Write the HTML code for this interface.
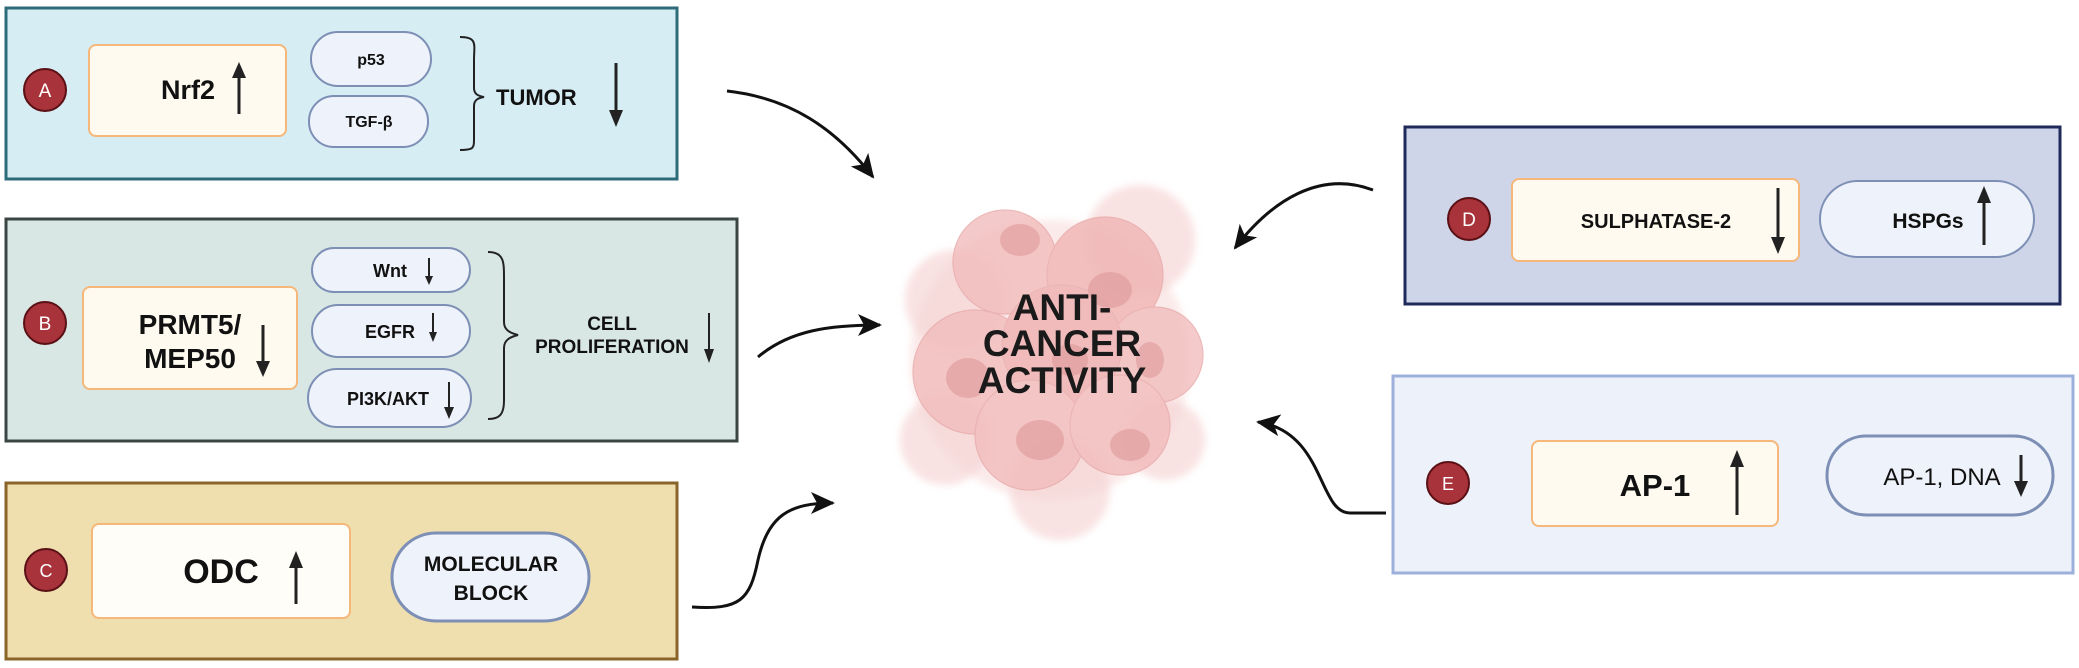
<!DOCTYPE html>
<html><head><meta charset="utf-8"><style>
html,body{margin:0;padding:0;background:#fff;}
svg{display:block;}
text{font-family:"Liberation Sans",sans-serif;font-weight:bold;fill:#111;}
</style></head><body>
<svg width="2079" height="668" viewBox="0 0 2079 668" xmlns="http://www.w3.org/2000/svg">
<defs>
<marker id="ah" markerUnits="userSpaceOnUse" markerWidth="26" markerHeight="22" refX="22" refY="11" orient="auto">
<path d="M0,0 L24,11 L0,22 L6,11 Z" fill="#111"/></marker>
<filter id="bl" x="-20%" y="-20%" width="140%" height="140%"><feGaussianBlur stdDeviation="4"/></filter>
</defs>

<!-- Box A -->
<rect x="6" y="8" width="671" height="171" fill="#d6edf4" stroke="#2d6b78" stroke-width="3"/>
<circle cx="45" cy="90" r="21" fill="#a8333a" stroke="#5a1015" stroke-width="2"/>
<text x="45" y="97" font-size="19" text-anchor="middle" style="fill:#fff;font-weight:normal">A</text>
<rect x="89" y="45" width="197" height="91" rx="7" fill="#fffaf0" stroke="#f5b77a" stroke-width="2"/>
<text x="188" y="99" font-size="27" text-anchor="middle">Nrf2</text>
<line x1="239" y1="114" x2="239" y2="75" stroke="#222" stroke-width="3"/>
<polygon points="232,78 246,78 239,62" fill="#222"/>
<rect x="311" y="32" width="120" height="54" rx="27" fill="#eef2fa" stroke="#7d8fb5" stroke-width="2"/>
<text x="371" y="65" font-size="16" text-anchor="middle">p53</text>
<rect x="309" y="96" width="119" height="51" rx="25" fill="#eef2fa" stroke="#7d8fb5" stroke-width="2"/>
<text x="369" y="127" font-size="16" text-anchor="middle">TGF-β</text>
<path d="M460,37 C478,37 474,45 474,60 L474,88 C474,94 478,96 484,97 C478,98 474,100 474,106 L474,138 C474,148 474,150 460,150" fill="none" stroke="#222" stroke-width="2"/>
<text x="496" y="105" font-size="22">TUMOR</text>
<line x1="616" y1="63" x2="616" y2="112" stroke="#222" stroke-width="3"/>
<polygon points="609,110 623,110 616,127" fill="#222"/>

<!-- Box B -->
<rect x="6" y="219" width="731" height="222" fill="#d9e7e4" stroke="#3b4644" stroke-width="3"/>
<circle cx="45" cy="323" r="21" fill="#a8333a" stroke="#5a1015" stroke-width="2"/>
<text x="45" y="330" font-size="19" text-anchor="middle" style="fill:#fff;font-weight:normal">B</text>
<rect x="83" y="287" width="214" height="102" rx="7" fill="#fffaf0" stroke="#f5b77a" stroke-width="2"/>
<text x="190" y="334" font-size="28" text-anchor="middle">PRMT5/</text>
<text x="190" y="368" font-size="28" text-anchor="middle">MEP50</text>
<line x1="263" y1="325" x2="263" y2="364" stroke="#222" stroke-width="3"/>
<polygon points="256,361 270,361 263,377" fill="#222"/>
<rect x="312" y="248" width="158" height="44" rx="22" fill="#eef2fa" stroke="#7d8fb5" stroke-width="2"/>
<text x="390" y="277" font-size="18" text-anchor="middle">Wnt</text>
<line x1="429" y1="258" x2="429" y2="278" stroke="#222" stroke-width="2"/>
<polygon points="425,276 433,276 429,285" fill="#222"/>
<rect x="312" y="305" width="158" height="52" rx="26" fill="#eef2fa" stroke="#7d8fb5" stroke-width="2"/>
<text x="390" y="338" font-size="18" text-anchor="middle">EGFR</text>
<line x1="433" y1="313" x2="433" y2="334" stroke="#222" stroke-width="2"/>
<polygon points="429,332 437,332 433,342" fill="#222"/>
<rect x="308" y="369" width="163" height="58" rx="29" fill="#eef2fa" stroke="#7d8fb5" stroke-width="2"/>
<text x="388" y="405" font-size="18" text-anchor="middle">PI3K/AKT</text>
<line x1="449" y1="382" x2="449" y2="410" stroke="#222" stroke-width="2"/>
<polygon points="444,407 454,407 449,419" fill="#222"/>
<path d="M488,252 C504,252 504,262 504,278 L504,322 C504,330 510,333 518,335 C510,337 504,340 504,348 L504,400 C504,414 500,419 488,419" fill="none" stroke="#222" stroke-width="2"/>
<text x="612" y="330" font-size="19" text-anchor="middle">CELL</text>
<text x="612" y="353" font-size="19" text-anchor="middle">PROLIFERATION</text>
<line x1="709" y1="313" x2="709" y2="352" stroke="#222" stroke-width="2"/>
<polygon points="704,349 714,349 709,363" fill="#222"/>

<!-- Box C -->
<rect x="6" y="483" width="671" height="176" fill="#efdeae" stroke="#8a6428" stroke-width="3"/>
<circle cx="46" cy="570" r="21" fill="#a8333a" stroke="#5a1015" stroke-width="2"/>
<text x="46" y="577" font-size="18" text-anchor="middle" style="fill:#fff;font-weight:normal">C</text>
<rect x="92" y="524" width="258" height="94" rx="7" fill="#fffdf8" stroke="#f5b77a" stroke-width="2"/>
<text x="221" y="583" font-size="34" text-anchor="middle">ODC</text>
<line x1="296" y1="604" x2="296" y2="565" stroke="#222" stroke-width="3"/>
<polygon points="289,568 303,568 296,551" fill="#222"/>
<rect x="392" y="533" width="197" height="88" rx="44" fill="#eef2fa" stroke="#7d8fb5" stroke-width="3"/>
<text x="491" y="571" font-size="21" text-anchor="middle">MOLECULAR</text>
<text x="491" y="600" font-size="21" text-anchor="middle">BLOCK</text>

<!-- Cell cluster -->
<g filter="url(#bl)">
<circle cx="1050" cy="360" r="140" fill="#f8dcdc" opacity="0.6"/>
<circle cx="955" cy="300" r="50" fill="#f6d6d6" opacity="0.7"/>
<circle cx="1140" cy="240" r="55" fill="#f6d6d6" opacity="0.7"/>
<circle cx="1060" cy="490" r="50" fill="#f6d6d6" opacity="0.7"/>
<circle cx="945" cy="440" r="45" fill="#f6d6d6" opacity="0.7"/>
<circle cx="1165" cy="440" r="40" fill="#f6d6d6" opacity="0.7"/>
</g>
<g stroke="#e8a8a8" stroke-width="1.2" opacity="0.8">
<circle cx="1005" cy="262" r="52" fill="#f2bcbc"/>
<circle cx="1105" cy="275" r="58" fill="#f0b4b4"/>
<circle cx="975" cy="372" r="62" fill="#f2bcbc"/>
<circle cx="1155" cy="355" r="48" fill="#f2bebe"/>
<circle cx="1062" cy="345" r="60" fill="#efb0b0"/>
<circle cx="1030" cy="435" r="55" fill="#f2bcbc"/>
<circle cx="1120" cy="425" r="50" fill="#f2bcbc"/>
</g>
<g fill="#dd9597" opacity="0.55">
<ellipse cx="1020" cy="240" rx="20" ry="16"/>
<ellipse cx="1110" cy="290" rx="22" ry="18"/>
<ellipse cx="968" cy="378" rx="22" ry="20"/>
<ellipse cx="1040" cy="440" rx="24" ry="20"/>
<ellipse cx="1130" cy="445" rx="20" ry="16"/>
<ellipse cx="1150" cy="360" rx="14" ry="18"/>
<ellipse cx="1070" cy="360" rx="18" ry="16"/>
</g>
<text x="1062" y="320" font-size="37" text-anchor="middle" style="fill:#1a1a1a">ANTI-</text>
<text x="1062" y="356" font-size="37" text-anchor="middle" style="fill:#1a1a1a">CANCER</text>
<text x="1062" y="393" font-size="37" text-anchor="middle" style="fill:#1a1a1a">ACTIVITY</text>

<!-- Box D -->
<rect x="1405" y="127" width="655" height="177" fill="#ced5e9" stroke="#1f2a5a" stroke-width="3"/>
<circle cx="1469" cy="219" r="21" fill="#a8333a" stroke="#5a1015" stroke-width="2"/>
<text x="1469" y="226" font-size="19" text-anchor="middle" style="fill:#fff;font-weight:normal">D</text>
<rect x="1512" y="179" width="287" height="82" rx="7" fill="#fffaf0" stroke="#f5b77a" stroke-width="2"/>
<text x="1656" y="228" font-size="20" text-anchor="middle">SULPHATASE-2</text>
<line x1="1778" y1="188" x2="1778" y2="240" stroke="#222" stroke-width="3"/>
<polygon points="1771,237 1785,237 1778,254" fill="#222"/>
<rect x="1820" y="181" width="214" height="76" rx="38" fill="#eef2fa" stroke="#7d8fb5" stroke-width="2"/>
<text x="1928" y="228" font-size="21" text-anchor="middle">HSPGs</text>
<line x1="1984" y1="245" x2="1984" y2="200" stroke="#222" stroke-width="3"/>
<polygon points="1977,203 1991,203 1984,186" fill="#222"/>

<!-- Box E -->
<rect x="1393" y="376" width="680" height="197" fill="#edf2fa" stroke="#9db0dc" stroke-width="3"/>
<circle cx="1448" cy="483" r="21" fill="#a8333a" stroke="#5a1015" stroke-width="2"/>
<text x="1448" y="490" font-size="18" text-anchor="middle" style="fill:#fff;font-weight:normal">E</text>
<rect x="1532" y="441" width="246" height="85" rx="7" fill="#fffaf0" stroke="#f5b77a" stroke-width="2"/>
<text x="1655" y="496" font-size="31" text-anchor="middle">AP-1</text>
<line x1="1737" y1="515" x2="1737" y2="464" stroke="#222" stroke-width="3"/>
<polygon points="1730,467 1744,467 1737,450" fill="#222"/>
<rect x="1827" y="436" width="226" height="79" rx="39" fill="#eef2fa" stroke="#7d8fb5" stroke-width="3"/>
<text x="1942" y="485" font-size="24" text-anchor="middle" style="font-weight:normal">AP-1, DNA</text>
<line x1="2021" y1="455" x2="2021" y2="484" stroke="#222" stroke-width="3"/>
<polygon points="2014,481 2028,481 2021,497" fill="#222"/>

<!-- connectors -->
<g fill="none" stroke="#111" stroke-width="3">
<path d="M727,91 C790,98 835,128 873,177" marker-end="url(#ah)"/>
<path d="M758,357 C790,330 830,325 880,325" marker-end="url(#ah)"/>
<path d="M692,607 C740,610 750,600 758,560 C768,515 790,503 833,503" marker-end="url(#ah)"/>
<path d="M1373,190 C1320,170 1272,200 1235,248" marker-end="url(#ah)"/>
<path d="M1386,513 L1350,513 C1318,513 1325,432 1258,422" marker-end="url(#ah)"/>
</g>
</svg>
</body></html>
